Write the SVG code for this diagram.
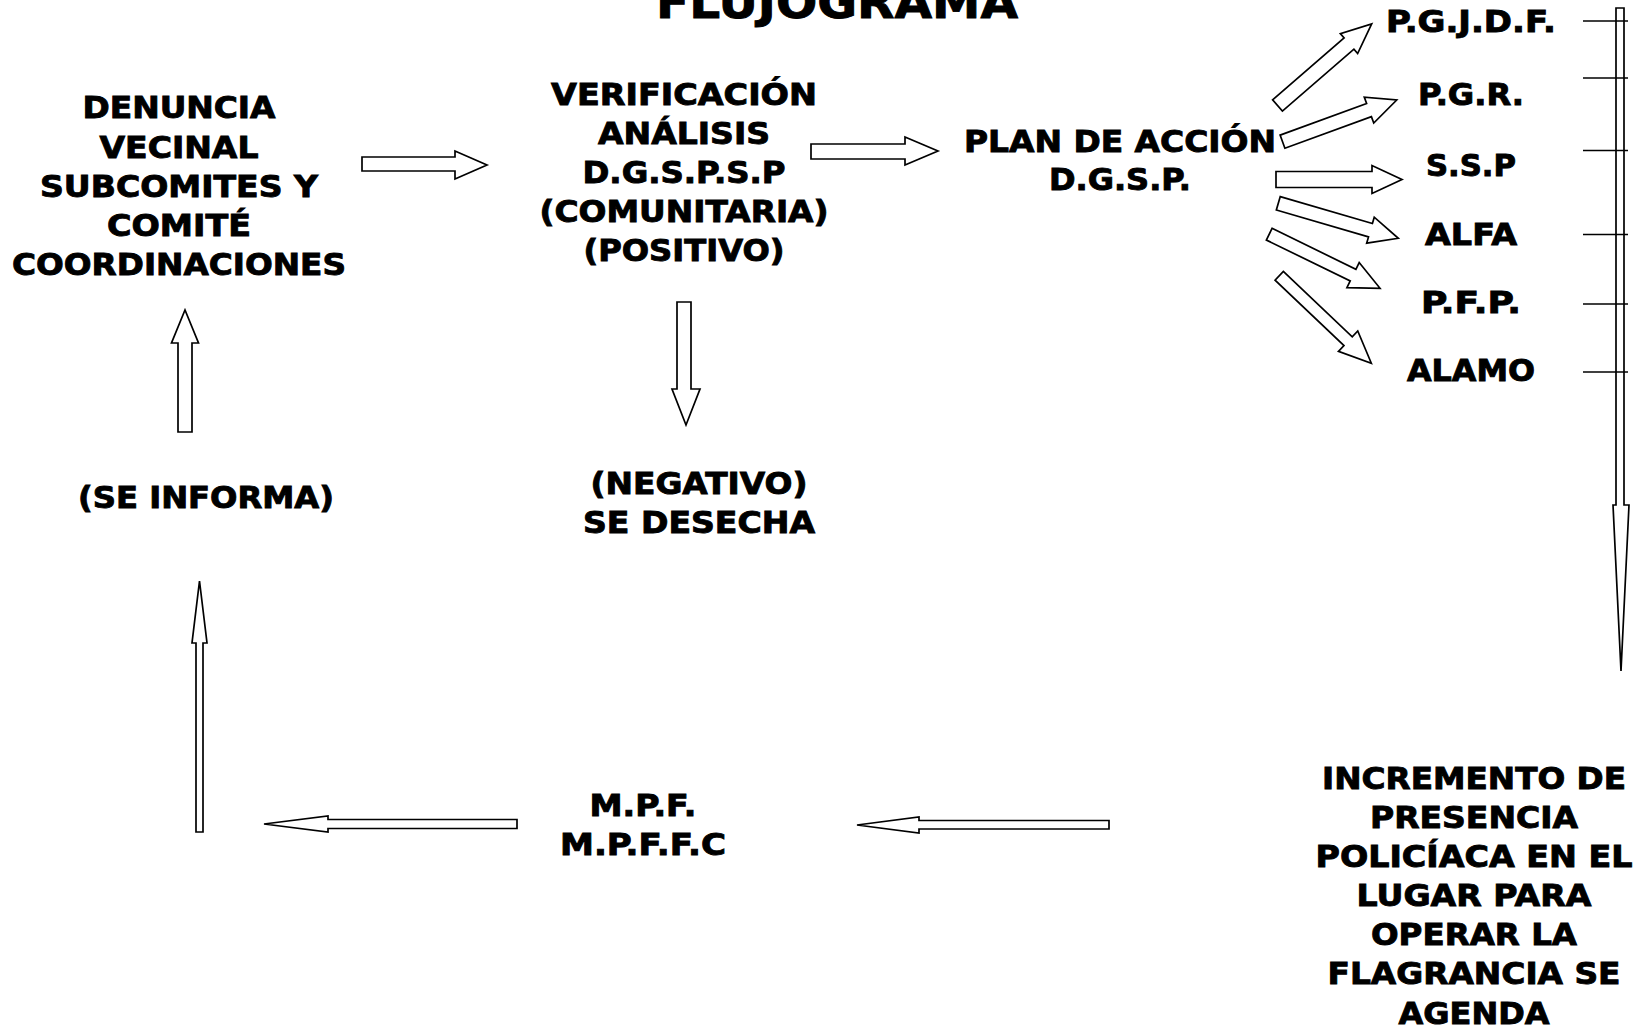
<svg xmlns="http://www.w3.org/2000/svg" width="1638" height="1028" viewBox="0 0 1638 1028">
<style>
  text { font-family: "DejaVu Sans", "Liberation Sans", Arial, sans-serif; font-weight: bold; font-size: 30px; fill: #000; stroke: #000; stroke-width: 0.9; text-anchor: middle; }
  .title { font-size: 44px; }
  .arr { fill: #fff; stroke: #000; stroke-width: 1.7; stroke-linejoin: miter; }
  .tick { stroke: #000; stroke-width: 1.7; }
</style>
<rect width="1638" height="1028" fill="#fff"/>

<g id="title">
  <text class="title" x="837" y="18" textLength="362" lengthAdjust="spacingAndGlyphs">FLUJOGRAMA</text>
</g>

<g id="denuncia">
  <text x="179" y="118" textLength="193" lengthAdjust="spacingAndGlyphs">DENUNCIA</text>
  <text x="179" y="157.5" textLength="159" lengthAdjust="spacingAndGlyphs">VECINAL</text>
  <text x="179" y="197" textLength="278" lengthAdjust="spacingAndGlyphs">SUBCOMITES Y</text>
  <text x="179" y="236" textLength="144" lengthAdjust="spacingAndGlyphs">COMITÉ</text>
  <text x="179" y="275" textLength="334" lengthAdjust="spacingAndGlyphs">COORDINACIONES</text>
</g>

<g id="verificacion">
  <text x="684" y="104.5" textLength="266" lengthAdjust="spacingAndGlyphs">VERIFICACIÓN</text>
  <text x="684" y="144" textLength="172" lengthAdjust="spacingAndGlyphs">ANÁLISIS</text>
  <text x="684" y="183" textLength="203" lengthAdjust="spacingAndGlyphs">D.G.S.P.S.P</text>
  <text x="684" y="222" textLength="289" lengthAdjust="spacingAndGlyphs">(COMUNITARIA)</text>
  <text x="684" y="261" textLength="201" lengthAdjust="spacingAndGlyphs">(POSITIVO)</text>
</g>

<g id="plan">
  <text x="1120" y="151.5" textLength="312" lengthAdjust="spacingAndGlyphs">PLAN DE ACCIÓN</text>
  <text x="1120" y="190" textLength="142" lengthAdjust="spacingAndGlyphs">D.G.S.P.</text>
</g>

<g id="pgjdf"><text x="1471" y="32" textLength="170" lengthAdjust="spacingAndGlyphs">P.G.J.D.F.</text></g>
<g id="pgr"><text x="1471" y="105" textLength="106" lengthAdjust="spacingAndGlyphs">P.G.R.</text></g>
<g id="ssp"><text x="1471" y="176" textLength="90" lengthAdjust="spacingAndGlyphs">S.S.P</text></g>
<g id="alfa"><text x="1471" y="245" textLength="92" lengthAdjust="spacingAndGlyphs">ALFA</text></g>
<g id="pfp"><text x="1471" y="313" textLength="100" lengthAdjust="spacingAndGlyphs">P.F.P.</text></g>
<g id="alamo"><text x="1471" y="381" textLength="128" lengthAdjust="spacingAndGlyphs">ALAMO</text></g>

<g id="se-informa">
  <text x="206" y="508" textLength="256" lengthAdjust="spacingAndGlyphs">(SE INFORMA)</text>
</g>

<g id="negativo">
  <text x="699" y="494" textLength="217" lengthAdjust="spacingAndGlyphs">(NEGATIVO)</text>
  <text x="699" y="533" textLength="232" lengthAdjust="spacingAndGlyphs">SE DESECHA</text>
</g>

<g id="mpf">
  <text x="643" y="816" textLength="107" lengthAdjust="spacingAndGlyphs">M.P.F.</text>
  <text x="643" y="854.5" textLength="166" lengthAdjust="spacingAndGlyphs">M.P.F.F.C</text>
</g>

<g id="incremento">
  <text x="1474" y="789" textLength="304" lengthAdjust="spacingAndGlyphs">INCREMENTO DE</text>
  <text x="1474" y="827.5" textLength="208" lengthAdjust="spacingAndGlyphs">PRESENCIA</text>
  <text x="1474" y="867" textLength="317" lengthAdjust="spacingAndGlyphs">POLICÍACA EN EL</text>
  <text x="1474" y="906" textLength="235" lengthAdjust="spacingAndGlyphs">LUGAR PARA</text>
  <text x="1474" y="945" textLength="206" lengthAdjust="spacingAndGlyphs">OPERAR LA</text>
  <text x="1474" y="984" textLength="293" lengthAdjust="spacingAndGlyphs">FLAGRANCIA SE</text>
  <text x="1474" y="1023.5" textLength="151" lengthAdjust="spacingAndGlyphs">AGENDA</text>
</g>

<g id="connectors">
  <polygon class="arr" points="362,157 455,157 455,151 487,165 455,179 455,171 362,171"/>
  <polygon class="arr" points="811,144 905,144 905,137 938,151 905,165 905,159 811,159"/>
  <polygon class="arr" points="677,302 691,302 691,389 700,389 686,425 672,389 677,389"/>
  <polygon class="arr" points="178,432 178,343 171.5,343 185,310 198.5,343 192,343 192,432"/>
  <polygon class="arr" points="196,832 196,643 192,643 199.5,581 207,643 203,643 203,832"/>
  <polygon class="arr" points="517,819.5 328,819.5 328,816 264,824 328,832 328,828.5 517,828.5"/>
  <polygon class="arr" points="1109,820.5 919,820.5 919,817 857,825 919,833 919,829 1109,829"/>
  <polygon class="arr" points="1616,8 1624,8 1624,505 1629,505 1621,671 1613,505 1616,505"/>

  <polygon class="arr" transform="translate(1277.5,105.5) rotate(-40.9)" points="0,-7.5 94.6,-7.5 94.6,-13.2 124.6,0 94.6,13.2 94.6,7.5 0,7.5"/>
  <polygon class="arr" transform="translate(1282.5,141.7) rotate(-20.06)" points="0,-7 92.1,-7 92.1,-13.8 121.6,0 92.1,13.8 92.1,7 0,7"/>
  <polygon class="arr" transform="translate(1276,179.5)" points="0,-8 96,-8 96,-14 126,0 96,14 96,8 0,8"/>
  <polygon class="arr" transform="translate(1278.3,203.3) rotate(16.26)" points="0,-7 96,-7 96,-13.5 125,0 96,13.5 96,7 0,7"/>
  <polygon class="arr" transform="translate(1269.2,234.2) rotate(26)" points="0,-6.5 93.3,-6.5 93.3,-14 123.3,0 93.3,14 93.3,6.5 0,6.5"/>
  <polygon class="arr" transform="translate(1279.2,275.8) rotate(43.5)" points="0,-6 95,-6 95,-14 127,0 95,14 95,6 0,6"/>

  <line class="tick" x1="1583" y1="21" x2="1628" y2="21"/>
  <line class="tick" x1="1583" y1="78" x2="1628" y2="78"/>
  <line class="tick" x1="1583" y1="150.5" x2="1628" y2="150.5"/>
  <line class="tick" x1="1583" y1="234.5" x2="1628" y2="234.5"/>
  <line class="tick" x1="1583" y1="304" x2="1628" y2="304"/>
  <line class="tick" x1="1583" y1="372" x2="1628" y2="372"/>
</g>
</svg>
